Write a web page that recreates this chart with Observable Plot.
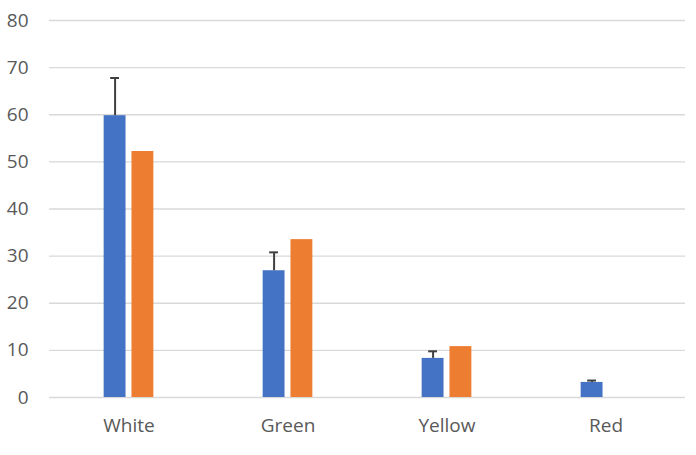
<!DOCTYPE html>
<html>
<head>
<meta charset="utf-8">
<script src="https://cdn.jsdelivr.net/npm/d3@7"></script>
<script src="https://cdn.jsdelivr.net/npm/@observablehq/plot@0.6"></script>
<style>
  html, body { margin: 0; padding: 0; background: #fff; }
</style>
</head>
<body>
<div id="chart"></div>
<script>
const categories = ["White", "Green", "Yellow", "Red"];
const seriesNames = ["Series1", "Series2"];
const series1Values = [59.8, 26.9, 8.3, 3.2];
const series2Values = [52.2, 33.5, 10.8, null];
const series1ErrorPlus = [8.0, 3.9, 1.5, 0.4];
const yTicks = [0, 10, 20, 30, 40, 50, 60, 70, 80];
const seriesColors = ["#4472C4", "#ED7D31"];

const rows = [];
categories.forEach((c, i) => {
  rows.push({category: c, series: seriesNames[0], value: series1Values[i], upper: series1Values[i] + series1ErrorPlus[i]});
  rows.push({category: c, series: seriesNames[1], value: series2Values[i], upper: null});
});

const chart = Plot.plot({
  width: 696,
  height: 455,
  marginLeft: 47,
  marginRight: 10,
  marginTop: 20,
  marginBottom: 58,
  style: {fontFamily: "'Open Sans', sans-serif", fontSize: "19px", color: "#595959", background: "#fff"},
  facet: {data: rows, x: "category"},
  fx: {domain: categories, padding: 0, label: null, axis: "bottom", tickSize: 0, tickPadding: 21},
  x: {domain: seriesNames, axis: null, paddingInner: 0.214, paddingOuter: 1.964, round: false},
  y: {domain: [0, 80], ticks: yTicks, label: null, tickSize: 0, tickPadding: 21, axis: "left"},
  color: {domain: seriesNames, range: seriesColors},
  marks: [
    Plot.ruleY(yTicks, {stroke: "#d9d9d9", strokeWidth: 1.4}),
    Plot.barY(rows, {filter: d => d.value != null, x: "series", y: "value", fill: "series"}),
    Plot.ruleX(rows, {filter: d => d.upper != null, x: "series", y1: "value", y2: "upper", stroke: "#404040", strokeWidth: 2}),
    Plot.tickY(rows, {filter: d => d.upper != null, x: "series", y: "upper", stroke: "#404040", strokeWidth: 2, insetLeft: 6.5, insetRight: 6.5})
  ]
});
document.getElementById("chart").appendChild(chart);
</script>
</body>
</html>
